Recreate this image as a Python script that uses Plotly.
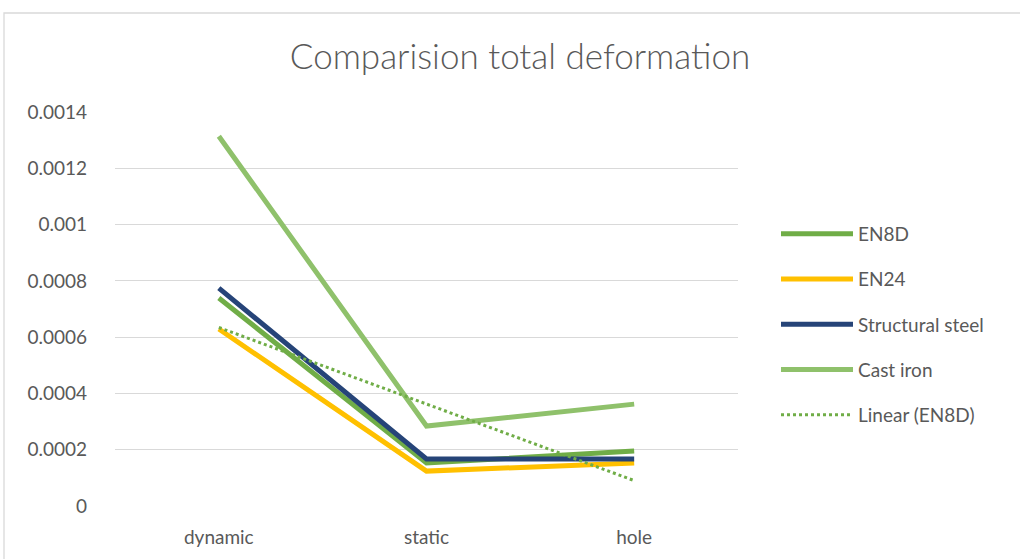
import numpy as np
import plotly.graph_objects as go

categories = ["dynamic", "static", "hole"]
en8d = [0.000739, 0.000153, 0.000195]
en24 = [0.000629, 0.000124, 0.000153]
structural_steel = [0.000774, 0.000167, 0.000167]
cast_iron = [0.001314, 0.000284, 0.000362]
y_ticks = [0, 0.0002, 0.0004, 0.0006, 0.0008, 0.001, 0.0012, 0.0014]
y_tick_labels = ["0", "0.0002", "0.0004", "0.0006", "0.0008", "0.001", "0.0012", "0.0014"]

# Excel-style linear trendline of EN8D
xi = np.arange(1, len(en8d) + 1)
slope, intercept = np.polyfit(xi, en8d, 1)
trend = list(slope * xi + intercept)

FONT = "Lato"
TXT = "#595959"

fig = go.Figure()
series = [
    ("EN8D", en8d, "#70AD47"),
    ("EN24", en24, "#FFC000"),
    ("Structural steel", structural_steel, "#264478"),
    ("Cast iron", cast_iron, "#8FC16B"),
]
for i, (name, vals, col) in enumerate(series):
    fig.add_trace(go.Scatter(x=categories, y=vals, name=name, mode="lines",
                             line=dict(color=col, width=5), legendgroup=f"g{i}"))
fig.add_trace(go.Scatter(x=categories, y=trend, name="Linear (EN8D)", mode="lines",
                         line=dict(color="#70AD47", width=3, dash="dot"), legendgroup="g9"))

fig.update_layout(
    width=1020, height=559,
    margin=dict(l=115, r=282, t=112, b=53),
    paper_bgcolor="white", plot_bgcolor="white",
    font=dict(family=FONT, color=TXT, size=19),
    title=dict(text="Comparision total deformation", x=520 / 1020, xref="container", xanchor="center",
               y=1 - 57 / 559, yref="container", yanchor="middle",
               font=dict(size=35, color=TXT, family=FONT, weight=300)),
    showlegend=True,
    hovermode=False,
    legend=dict(x=(776 - 115) / 623, xanchor="left", y=(506 - 215) / 394, yanchor="top",
                font=dict(size=19, color=TXT), tracegroupgap=17.5, itemwidth=72,
                bgcolor="rgba(0,0,0,0)"),
    xaxis=dict(type="category", range=[-0.5, 2.5], showgrid=False, zeroline=False,
               showline=False, ticks="", ticklabelstandoff=18, tickfont=dict(size=19, color=TXT)),
    yaxis=dict(range=[0, 0.0014], tickvals=y_ticks, ticktext=y_tick_labels,
               showgrid=True, gridcolor="#D9D9D9", gridwidth=1.3, zeroline=False,
               showline=False, ticks="", ticklabelstandoff=27, tickfont=dict(size=19, color=TXT)),
    shapes=[dict(type="rect", xref="paper", yref="paper",
                 x0=(4 - 115) / 623, x1=2.0, y0=-0.5, y1=(506 - 13) / 394,
                 line=dict(color="#D9D9D9", width=1.3), fillcolor="rgba(0,0,0,0)", layer="below")],
)
fig.write_html("out.html", config={"displayModeBar": False},
               post_script="document.body.style.margin='0';")
